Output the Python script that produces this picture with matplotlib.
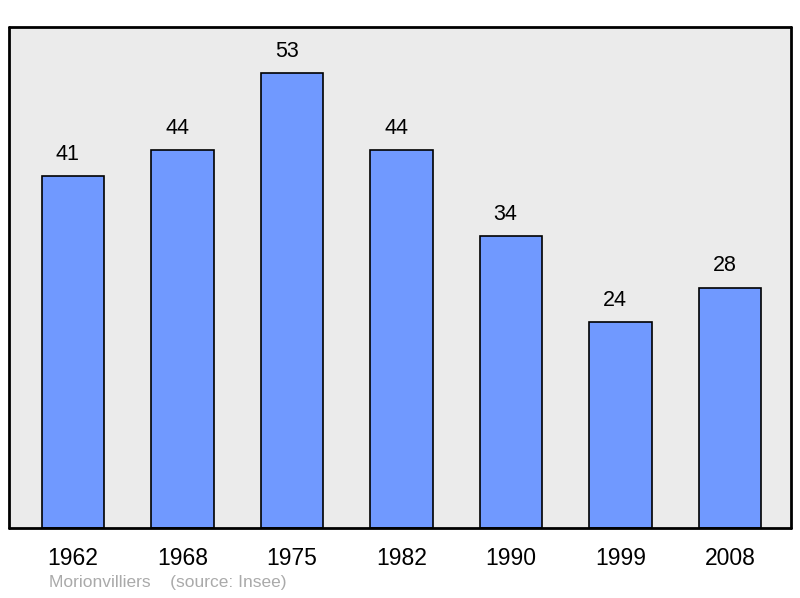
import matplotlib.pyplot as plt
import numpy as np

plt.rcParams['font.family'] = ['Liberation Sans', 'DejaVu Sans']

years = ["1962", "1968", "1975", "1982", "1990", "1999", "2008"]
population = [41, 44, 53, 44, 34, 24, 28]
commune = "Morionvilliers"
source = "(source: Insee)"

fig = plt.figure(figsize=(8, 5.98), dpi=100)
ax = fig.add_axes([9 / 800, 70 / 598, 782 / 800, 501 / 598])
ax.set_facecolor("#ebebeb")

x = np.arange(len(years))
ax.bar(x, population, width=0.57, color="#7099ff", edgecolor="black", linewidth=1.2)

# labels sit a little left of the bar centres, like the original
for xi, v in zip(x, population):
    ax.text(xi - 0.05, v + 1.3, str(v), ha="center", va="bottom", fontsize=15.5)

ax.set_xlim(-0.585, 6.556)
ax.set_ylim(0, 58.36)
ax.set_xticks(x)
ax.set_xticklabels(years, fontsize=16.5)
ax.tick_params(axis="x", length=0, pad=14)
ax.set_yticks([])
for s in ax.spines.values():
    s.set_linewidth(2)
    s.set_capstyle("round")
    s.set_joinstyle("round")

fig.text(49 / 800, 1 - 583 / 598, commune + "    " + source, fontsize=12.5,
         color="#aaaaaa", va="center", ha="left")

fig.savefig("out.png", dpi=100)
